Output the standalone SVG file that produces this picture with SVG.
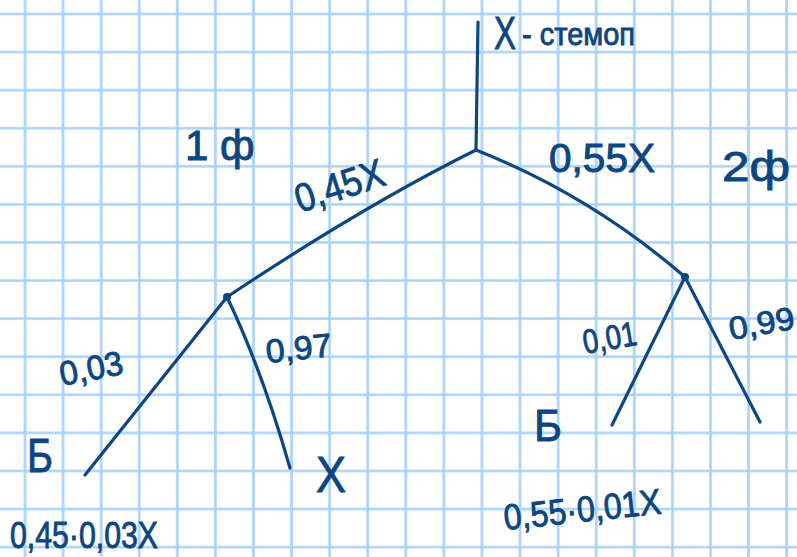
<svg xmlns="http://www.w3.org/2000/svg" width="797" height="557" viewBox="0 0 797 557">
<defs>
<pattern id="grid" x="5.96" y="-5.04" width="38.08" height="38.08" patternUnits="userSpaceOnUse">
<path d="M19.04,0 V38.08 M0,19.04 H38.08" fill="none" stroke="#a9d2fa" stroke-width="2.6"/>
</pattern>
</defs>
<style>
.ink{fill:none;stroke:#0d4680;stroke-width:3.2;stroke-linecap:round;stroke-linejoin:round}
.t{font-family:"Liberation Sans",Arial,sans-serif;fill:#0d4680;stroke:#0d4680;stroke-width:0.9}
.dot{fill:#0d4680}
</style>
<rect width="797" height="557" fill="#ffffff"/>
<rect width="797" height="557" fill="url(#grid)"/>
<g id="connectors">
<path class="ink" d="M478,22 L476,150" stroke-width="4"/>
<path class="ink" d="M476,150 Q365,205 227,297"/>
<path class="ink" d="M476,150 Q590,195 685,277"/>
<path class="ink" d="M227,297 L85,475"/>
<path class="ink" d="M227,297 Q262,370 290,468"/>
<path class="ink" d="M685,277 L612,425"/>
<path class="ink" d="M686,279 L760,422"/>
</g>
<g id="root">
<text class="t" x="494" y="49" font-size="46" textLength="22" lengthAdjust="spacingAndGlyphs">X</text>
<text class="t" x="522" y="45" font-size="32" textLength="113" lengthAdjust="spacingAndGlyphs">- стемоп</text>
</g>
<g id="node1">
<circle class="dot" cx="227" cy="297" r="4"/>
<text class="t" x="185" y="160" font-size="42">1 ф</text>
<text class="t" font-size="40" transform="translate(300,213) rotate(-18)" textLength="92" lengthAdjust="spacingAndGlyphs">0,45X</text>
</g>
<g id="node2">
<circle class="dot" cx="685" cy="277" r="4"/>
<text class="t" x="722" y="181" font-size="42" textLength="68" lengthAdjust="spacingAndGlyphs">2ф</text>
<text class="t" x="549" y="172" font-size="40" textLength="106" lengthAdjust="spacingAndGlyphs">0,55X</text>
</g>
<g id="leaf1">
<text class="t" font-size="34" transform="translate(62,386) rotate(-11)" textLength="64" lengthAdjust="spacingAndGlyphs">0,03</text>
<text class="t" x="27" y="472" font-size="48" textLength="26" lengthAdjust="spacingAndGlyphs">Б</text>
<text class="t" x="10" y="548" font-size="36" textLength="148" lengthAdjust="spacingAndGlyphs">0,45·0,03X</text>
</g>
<g id="leaf2">
<text class="t" font-size="33" transform="translate(267,363) rotate(-6)" textLength="66" lengthAdjust="spacingAndGlyphs">0,97</text>
<text class="t" x="316" y="492" font-size="50" textLength="30" lengthAdjust="spacingAndGlyphs">X</text>
</g>
<g id="leaf3">
<text class="t" font-size="34" transform="translate(585,354) rotate(-10)" textLength="54" lengthAdjust="spacingAndGlyphs">0,01</text>
<text class="t" x="534" y="441" font-size="44" textLength="28" lengthAdjust="spacingAndGlyphs">Б</text>
<text class="t" font-size="36" transform="translate(505,530) rotate(-6)" textLength="158" lengthAdjust="spacingAndGlyphs">0,55·0,01X</text>
</g>
<g id="leaf4">
<text class="t" font-size="32" transform="translate(731,340) rotate(-10)" textLength="66" lengthAdjust="spacingAndGlyphs">0,99</text>
</g>
</svg>
